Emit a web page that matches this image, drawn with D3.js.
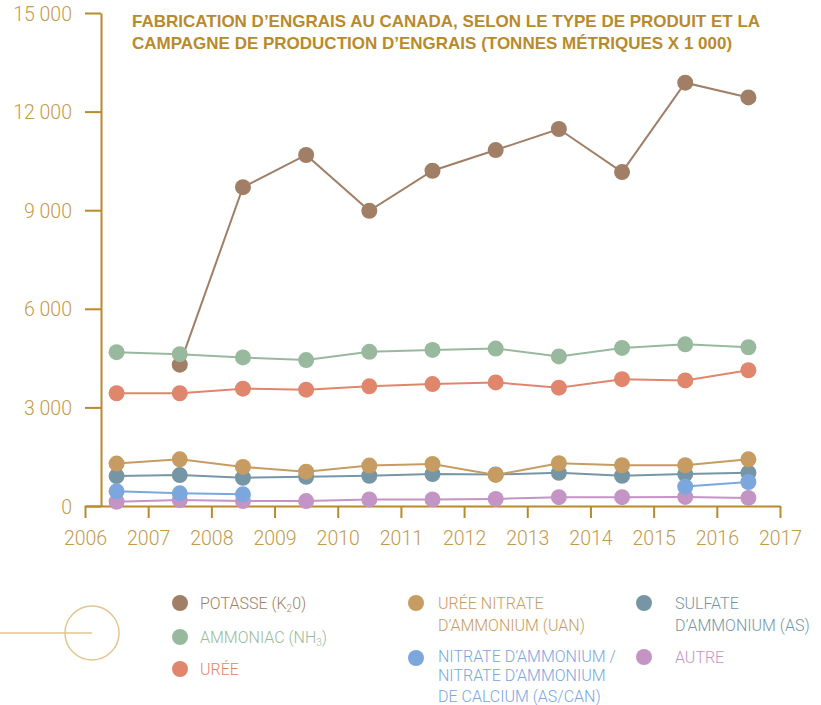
<!DOCTYPE html>
<html>
<head>
<meta charset="utf-8">
<script src="https://cdn.jsdelivr.net/npm/d3@7"></script>
<style>
  body { margin: 0; background: #fff; }
  svg { display: block; }
  .tick-label { font-family: Roboto, "Liberation Sans", sans-serif; font-weight: 300; fill: #c39a4c; }
  .legend text { font-family: Roboto, "Liberation Sans", sans-serif; font-weight: 300; font-size: 16px; }
</style>
</head>
<body>
<svg id="chart" width="821" height="705"></svg>
<script>
// campagnes (points au milieu de chaque année)
var years = [2006, 2007, 2008, 2009, 2010, 2011, 2012, 2013, 2014, 2015, 2016];
var xTicks = [2006, 2007, 2008, 2009, 2010, 2011, 2012, 2013, 2014, 2015, 2016, 2017];
var yTicks = [0, 3000, 6000, 9000, 12000, 15000];

// tonnes métriques x 1 000, null = pas de donnée
var potasse   = [null, 4300, 9700, 10680, 8980, 10200, 10830, 11470, 10160, 12880, 12430];
var ammoniac  = [4680, 4620, 4520, 4440, 4690, 4750, 4790, 4550, 4810, 4920, 4830];
var uree      = [3430, 3430, 3570, 3540, 3640, 3710, 3760, 3600, 3860, 3820, 4130];
var uan       = [1290, 1420, 1190, 1045, 1230, 1280, 945, 1300, 1240, 1240, 1420];
var sulfate   = [910, 940, 860, 890, 920, 970, 960, 1010, 920, 970, 1010];
var ascan     = [445, 385, 355, null, null, null, null, null, null, 590, 730];
var autre     = [130, 180, 150, 150, 200, 200, 215, 270, 270, 275, 245];

var colors = {
    potasse: "#a07f66", ammoniac: "#98b99d", uree: "#e0866c", uan: "#c79c62",
    sulfate: "#7796a5", ascan: "#7ba7dc", autre: "#c494c5"
};
var gold = "#b98a2c";

// ordre de dessin (dessous -> dessus)
var series = [
    {key: "autre", values: autre},
    {key: "sulfate", values: sulfate},
    {key: "ascan", values: ascan},
    {key: "uan", values: uan},
    {key: "uree", values: uree},
    {key: "potasse", values: potasse},
    {key: "ammoniac", values: ammoniac}
];

var svg = d3.select("#chart");

var x = d3.scaleLinear().domain([2006, 2017]).range([85, 780]);
var y = d3.scaleLinear().domain([0, 15000]).range([506, 13]);
var fmt = function(d) { return d3.format(",")(d).replace(",", " "); };

// axe X
var gx = svg.append("g").attr("transform", "translate(0," + y(0) + ")")
    .call(d3.axisBottom(x).tickValues(xTicks).tickFormat(d3.format("d")).tickSize(12).tickSizeOuter(0));
gx.select(".domain").attr("stroke", gold).attr("stroke-width", 2);
gx.selectAll(".tick line").attr("stroke", gold).attr("stroke-width", 2);
gx.selectAll(".tick text").attr("class", "tick-label").attr("font-size", 19.5).attr("dy", null).attr("y", 39);

// axe Y
var gy = svg.append("g").attr("transform", "translate(101,0)")
    .call(d3.axisLeft(y).tickValues(yTicks).tickFormat(fmt).tickSize(16).tickSizeOuter(0));
gy.select(".domain").attr("stroke", gold).attr("stroke-width", 2);
gy.selectAll(".tick line").attr("stroke", gold).attr("stroke-width", 2);
gy.selectAll(".tick text").attr("class", "tick-label").attr("font-size", 19.5).attr("x", -29).attr("dy", "0.36em");

// titre
var title = svg.append("text")
    .attr("font-family", "'Liberation Sans', Arial, sans-serif")
    .attr("font-weight", "bold").attr("font-size", 17)
    .attr("fill", gold);
title.append("tspan").attr("x", 132).attr("y", 27)
    .text("FABRICATION D’ENGRAIS AU CANADA, SELON LE TYPE DE PRODUIT ET LA");
title.append("tspan").attr("x", 132).attr("y", 48.5)
    .text("CAMPAGNE DE PRODUCTION D’ENGRAIS (TONNES MÉTRIQUES X 1 000)");

// séries
var line = d3.line()
    .defined(function(d) { return d.v != null; })
    .x(function(d) { return x(d.year + 0.5); })
    .y(function(d) { return y(d.v); });

series.forEach(function(s) {
    var pts = s.values.map(function(v, i) { return {year: years[i], v: v}; });
    var g = svg.append("g").attr("class", "series-" + s.key);
    g.append("path").datum(pts)
        .attr("d", line)
        .attr("fill", "none")
        .attr("stroke", colors[s.key])
        .attr("stroke-width", 2);
    g.selectAll("circle").data(pts.filter(function(d) { return d.v != null; }))
        .join("circle")
        .attr("cx", function(d) { return x(d.year + 0.5); })
        .attr("cy", function(d) { return y(d.v); })
        .attr("r", 8)
        .attr("fill", colors[s.key]);
});

// décor
svg.append("line").attr("x1", 0).attr("x2", 92).attr("y1", 633).attr("y2", 633)
    .attr("stroke", "#e2c691").attr("stroke-width", 1.5);
svg.append("circle").attr("cx", 92).attr("cy", 633).attr("r", 27)
    .attr("fill", "none").attr("stroke", "#e2c691").attr("stroke-width", 1.5);

// légende
var legendItems = [
    {key: "potasse", cx: 180, cy: 603, tx: 200, lines: [["POTASSE (K", "2", "0)"]], ly: [609]},
    {key: "ammoniac", cx: 180, cy: 637, tx: 200, lines: [["AMMONIAC (NH", "3", ")"]], ly: [643]},
    {key: "uree", cx: 180, cy: 669, tx: 200, lines: [["URÉE"]], ly: [675]},
    {key: "uan", cx: 416, cy: 603, tx: 438, lines: [["URÉE NITRATE"], ["D’AMMONIUM (UAN)"]], ly: [609, 631]},
    {key: "ascan", cx: 416, cy: 658, tx: 438, lines: [["NITRATE D’AMMONIUM /"], ["NITRATE D’AMMONIUM"], ["DE CALCIUM (AS/CAN)"]], ly: [662, 681, 702]},
    {key: "sulfate", cx: 644, cy: 603, tx: 675, lines: [["SULFATE"], ["D’AMMONIUM (AS)"]], ly: [609, 631]},
    {key: "autre", cx: 644, cy: 657, tx: 675, lines: [["AUTRE"]], ly: [663]}
];

var lg = svg.append("g").attr("class", "legend");
legendItems.forEach(function(it) {
    lg.append("circle").attr("cx", it.cx).attr("cy", it.cy).attr("r", 8).attr("fill", colors[it.key]);
    it.lines.forEach(function(parts, i) {
        var t = lg.append("text").attr("x", it.tx).attr("y", it.ly[i]).attr("fill", colors[it.key]);
        t.append("tspan").text(parts[0]);
        if (parts.length > 1) {
            t.append("tspan").attr("font-size", 10).attr("dy", 3).text(parts[1]);
            t.append("tspan").attr("dy", -3).text(parts[2]);
        }
    });
});
</script>
</body>
</html>
